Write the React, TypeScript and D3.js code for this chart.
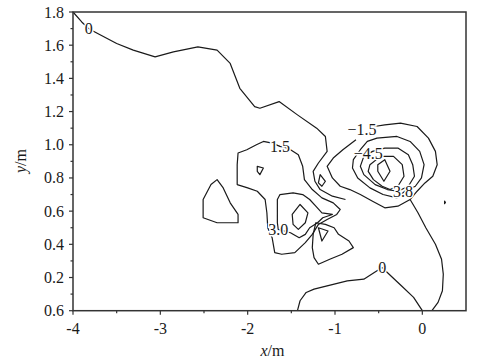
import * as d3 from 'd3';

// x/m, y/m contour traces
const xTicks = [-4, -3, -2, -1, 0];
const xTickLabels = ['-4', '-3', '-2', '-1', '0'];
const yTicks = [0, 0.2, 0.4, 0.6, 0.8, 1.0, 1.2, 1.4, 1.6, 1.8];
const yTickLabels = ['0.6', '0.2', '0.4', '0.6', '0.8', '1.0', '1.2', '1.4', '1.6', '1.8'];
const xMinor = [-3.5, -2.5, -1.5, -0.5];
const yMinor = [0.1, 0.3, 0.5, 0.7, 0.9, 1.1, 1.3, 1.5, 1.7];

// open contour lines
const zeroTop = [
  [-4.0, 1.8], [-3.9, 1.74], [-3.82, 1.7], [-3.75, 1.68], [-3.5, 1.61], [-3.31, 1.57],
  [-3.06, 1.53], [-2.85, 1.56], [-2.57, 1.59], [-2.35, 1.57], [-2.2, 1.49], [-2.09, 1.34],
  [-1.92, 1.23], [-1.86, 1.22], [-1.64, 1.26], [-1.43, 1.18], [-1.21, 1.1], [-1.11, 1.05],
  [-1.09, 0.96], [-1.19, 0.89], [-1.25, 0.84], [-1.23, 0.78], [-1.17, 0.73], [-1.03, 0.69],
  [-0.88, 0.67],
];
const zeroRight = [
  [-0.76, 1.03], [-0.91, 0.97], [-1.02, 0.92], [-1.09, 0.87], [-1.03, 0.8], [-0.94, 0.75],
  [-0.83, 0.73], [-0.71, 0.7], [-0.57, 0.66], [-0.43, 0.62], [-0.28, 0.63], [-0.14, 0.67],
  [-0.05, 0.59], [0.04, 0.5], [0.15, 0.4], [0.22, 0.31], [0.24, 0.22], [0.23, 0.12],
  [0.18, 0.05], [0.11, 0.0],
];
const outerRing = [
  [-0.55, 1.11], [-0.43, 1.12], [-0.25, 1.13], [-0.06, 1.11], [0.07, 1.04], [0.15, 0.96],
  [0.17, 0.88], [0.12, 0.81], [0.03, 0.77], [-0.06, 0.72], [-0.14, 0.67],
];
const zeroBottom = [
  [-1.43, 0.0], [-1.4, 0.06], [-1.33, 0.11], [-1.24, 0.13], [-1.09, 0.15], [-0.86, 0.18],
  [-0.67, 0.19], [-0.55, 0.23], [-0.46, 0.26], [-0.38, 0.22], [-0.24, 0.15], [-0.1, 0.08],
  [0.0, 0.0],
];

// closed contour loops
const ring2 = [
  [-0.63, 1.02], [-0.52, 1.04], [-0.29, 1.05], [-0.14, 1.02], [-0.03, 0.96], [0.02, 0.88],
  [-0.01, 0.8], [-0.08, 0.75], [-0.2, 0.72], [-0.29, 0.68], [-0.45, 0.7], [-0.6, 0.74],
  [-0.74, 0.8], [-0.8, 0.86], [-0.79, 0.91], [-0.71, 0.97],
];
const ring3 = [
  [-0.57, 0.96], [-0.43, 0.98], [-0.28, 0.98], [-0.16, 0.94], [-0.11, 0.88], [-0.09, 0.81],
  [-0.16, 0.75], [-0.28, 0.72], [-0.4, 0.73], [-0.54, 0.76], [-0.67, 0.82], [-0.71, 0.87],
  [-0.67, 0.93],
];
const ring4 = [
  [-0.6, 0.88], [-0.48, 0.93], [-0.33, 0.93], [-0.23, 0.88], [-0.21, 0.81], [-0.28, 0.75],
  [-0.37, 0.73], [-0.46, 0.75], [-0.56, 0.79], [-0.62, 0.84],
];
const ring5 = [[-0.51, 0.88], [-0.43, 0.91], [-0.37, 0.84], [-0.44, 0.78], [-0.51, 0.84]];
const loop15 = [
  [-1.54, 0.98], [-1.42, 0.94], [-1.37, 0.87], [-1.35, 0.79], [-1.26, 0.73], [-1.15, 0.68],
  [-1.02, 0.65], [-0.94, 0.61], [-0.98, 0.58], [-1.09, 0.55], [-1.19, 0.52], [-1.26, 0.46],
  [-1.34, 0.41], [-1.46, 0.35], [-1.61, 0.34], [-1.69, 0.35], [-1.72, 0.44], [-1.77, 0.5],
  [-1.78, 0.59], [-1.8, 0.67], [-1.89, 0.72], [-2.0, 0.74], [-2.12, 0.76], [-2.12, 0.88],
  [-2.11, 0.95], [-2.01, 0.97], [-1.9, 1.0], [-1.82, 1.02], [-1.72, 1.01], [-1.63, 0.99],
];
const loop30 = [
  [-1.66, 0.53], [-1.66, 0.67], [-1.63, 0.7], [-1.48, 0.71], [-1.37, 0.7], [-1.29, 0.67],
  [-1.22, 0.63], [-1.15, 0.59], [-1.03, 0.58], [-1.14, 0.56], [-1.2, 0.53], [-1.29, 0.5],
  [-1.34, 0.46], [-1.41, 0.44], [-1.51, 0.47], [-1.65, 0.49],
];
const diamond30 = [[-1.49, 0.58], [-1.4, 0.64], [-1.31, 0.59], [-1.34, 0.53], [-1.42, 0.49], [-1.48, 0.52]];
const lowerLoop = [
  [-1.22, 0.53], [-1.25, 0.46], [-1.26, 0.38], [-1.24, 0.32], [-1.19, 0.28], [-1.06, 0.31],
  [-0.92, 0.34], [-0.79, 0.38], [-0.84, 0.42], [-0.96, 0.46], [-1.01, 0.5], [-1.11, 0.52],
];
const lowerTri = [[-1.19, 0.5], [-1.08, 0.48], [-1.15, 0.42]];
const leftLoop = [
  [-2.35, 0.79], [-2.28, 0.74], [-2.2, 0.65], [-2.11, 0.58], [-2.11, 0.53], [-2.35, 0.53],
  [-2.51, 0.56], [-2.51, 0.67], [-2.42, 0.76],
];
const smallA = [[-1.89, 0.87], [-1.82, 0.86], [-1.86, 0.82], [-1.89, 0.84]];
const smallB = [[-1.17, 0.82], [-1.11, 0.78], [-1.15, 0.75], [-1.19, 0.77]];
const dot = [[0.255, 0.66], [0.265, 0.652], [0.255, 0.645]];

const openLines = [zeroTop, zeroRight, outerRing, zeroBottom];
const closedLines = [ring2, ring3, ring4, ring5, loop15, loop30, diamond30, lowerLoop, lowerTri, leftLoop, smallA, smallB, dot];

const labelText = ['0', '1.5', '\u22121.5', '\u22124.5', '3.8', '3.0', '0'];
const labelX = [-3.82, -1.63, -0.69, -0.62, -0.22, -1.65, -0.46];
const labelY = [1.7, 0.99, 1.09, 0.95, 0.72, 0.49, 0.26];

export default function App() {
  const width = 480;
  const height = 361;
  const m = { left: 73, right: 466, top: 12, bottom: 310.7 };
  const x = d3.scaleLinear().domain([-4, 0.5]).range([m.left, m.right]);
  const y = d3.scaleLinear().domain([0, 1.8]).range([m.bottom, m.top]);

  const open = d3.line<number[]>().x(d => x(d[0])).y(d => y(d[1])).curve(d3.curveLinear);
  const closed = d3.line<number[]>().x(d => x(d[0])).y(d => y(d[1])).curve(d3.curveLinearClosed);
  const font = '"Liberation Serif", "Times New Roman", serif';
  const ink = '#1a1a1a';

  return (
    <svg width={width} height={height} style={{ position: 'absolute', left: 0, top: 0, background: '#fff' }}>
      <g fill="none" stroke={ink} strokeWidth={1.2} strokeLinejoin="round">
        {openLines.map((l, i) => <path key={'o' + i} d={open(l) ?? ''} />)}
        {closedLines.map((l, i) => <path key={'c' + i} d={closed(l) ?? ''} />)}
      </g>
      <g fontFamily={font} fontSize={16} fill={ink} textAnchor="middle" dominantBaseline="central">
        {labelText.map((t, i) => (
          <text key={i} x={x(labelX[i])} y={y(labelY[i])} stroke="#fff" strokeWidth={3} paintOrder="stroke">
            {t}
          </text>
        ))}
      </g>
      <rect x={m.left} y={m.top} width={m.right - m.left} height={m.bottom - m.top} fill="none" stroke="#333" strokeWidth={1.5} />
      <g stroke="#333" strokeWidth={1.2}>
        {xTicks.map(t => <line key={'xt' + t} x1={x(t)} x2={x(t)} y1={m.bottom} y2={m.bottom + 4} />)}
        {xMinor.map(t => <line key={'xm' + t} x1={x(t)} x2={x(t)} y1={m.bottom} y2={m.bottom + 2.5} />)}
        {yTicks.map(t => <line key={'yt' + t} x1={m.left - 4} x2={m.left} y1={y(t)} y2={y(t)} />)}
        {yMinor.map(t => <line key={'ym' + t} x1={m.left - 2.5} x2={m.left} y1={y(t)} y2={y(t)} />)}
      </g>
      <g fontFamily={font} fontSize={16} fill={ink}>
        {xTicks.map((t, i) => (
          <text key={'xl' + t} x={x(t)} y={m.bottom + 23} textAnchor="middle">{xTickLabels[i]}</text>
        ))}
        {yTicks.map((t, i) => (
          <text key={'yl' + t} x={m.left - 9} y={y(t) + 5.5} textAnchor="end">{yTickLabels[i]}</text>
        ))}
        <text x={(m.left + m.right) / 2 + 3} y={356} textAnchor="middle">
          <tspan fontStyle="italic">x</tspan>/m
        </text>
        <text transform={`translate(26,${161}) rotate(-90)`} textAnchor="middle">
          <tspan fontStyle="italic">y</tspan>/m
        </text>
      </g>
    </svg>
  );
}
